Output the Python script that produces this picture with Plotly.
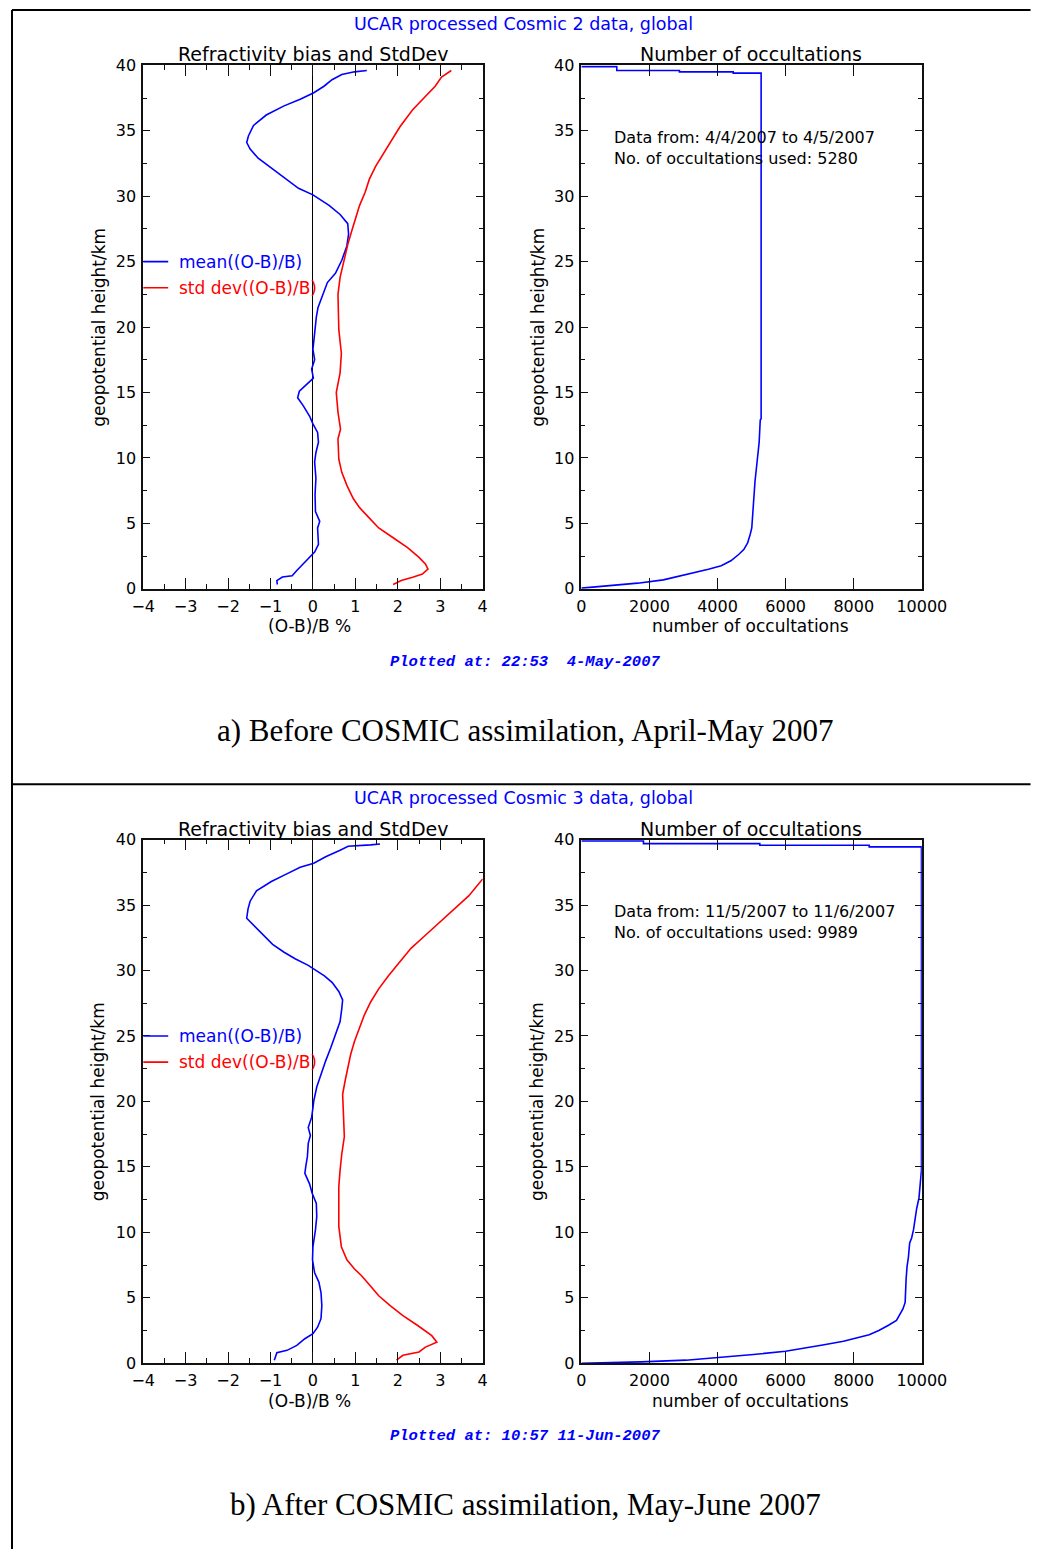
import plotly.graph_objects as go

# ---------------- data ----------------
# a) before COSMIC assimilation (April-May 2007)
mean_a_h = [0.33, 0.63, 0.9, 1.0, 1.4, 1.9, 2.4, 2.8, 3.4, 4.65, 5.15, 5.9, 7.2, 8.45, 9.7, 10.4,
            11.2, 11.95, 12.6, 13.2, 14.0, 14.6, 15.1, 15.7, 16.1, 16.8, 17.5, 18.3, 19.0, 20.0,
            20.75, 21.5, 22.3, 23.4, 24.1, 25.1, 26.2, 27.1, 27.9, 28.6, 29.3, 30.1, 30.6, 31.4,
            32.1, 32.9, 33.6, 34.1, 34.6, 35.4, 36.2, 36.9, 37.4, 37.9, 38.4, 38.9, 39.3, 39.5, 39.6]
mean_a_v = [-0.84, -0.85, -0.72, -0.49, -0.38, -0.23, -0.08, 0.04, 0.13, 0.11, 0.16, 0.06, 0.05,
            0.07, 0.04, 0.07, 0.13, 0.11, 0.0, -0.08, -0.23, -0.36, -0.32, -0.11, 0.01, -0.03,
            0.04, 0.0, 0.02, 0.05, 0.08, 0.12, 0.22, 0.34, 0.53, 0.68, 0.80, 0.84, 0.82, 0.64,
            0.38, 0.0, -0.34, -0.68, -0.98, -1.29, -1.48, -1.56, -1.52, -1.40, -1.10, -0.68,
            -0.30, 0.02, 0.26, 0.45, 0.68, 0.98, 1.27]

std_a_h = [0.33, 0.63, 0.88, 1.13, 1.5, 1.9, 2.4, 3.15, 3.9, 4.65, 5.4, 6.2, 6.9, 7.9, 8.9, 9.9,
           11.45, 12.2, 13.5, 15.0, 16.5, 18.0, 19.8, 21.3, 22.5, 23.8, 25.0, 26.3, 27.3, 28.3,
           29.3, 30.3, 31.3, 32.3, 33.3, 34.3, 35.3, 36.6, 37.6, 38.4, 39.1, 39.6]
std_a_v = [1.89, 2.08, 2.35, 2.58, 2.71, 2.65, 2.5, 2.23, 1.89, 1.55, 1.33, 1.10, 0.95, 0.80,
           0.68, 0.61, 0.59, 0.65, 0.59, 0.55, 0.64, 0.67, 0.61, 0.59, 0.59, 0.64, 0.72, 0.82,
           0.91, 1.0, 1.10, 1.23, 1.33, 1.48, 1.67, 1.86, 2.05, 2.35, 2.65, 2.88, 3.03, 3.26]

# occultation counts reaching each height (staircase near the top, curve below)
occ_a_n = [0, 1040, 1040, 2880, 2880, 4460, 4460, 5280, 5280, 5254, 5222, 5147, 5100, 5052,
           5005, 4958, 4883, 4770, 4628, 4391, 4108, 3731, 3354, 2881, 2408, 1654, 898, 331, 0]
occ_a_h = [39.9, 39.9, 39.6, 39.6, 39.5, 39.5, 39.4, 39.4, 13.0, 12.9, 11.2, 9.4, 8.2, 6.4,
           4.65, 4.15, 3.5, 3.0, 2.64, 2.14, 1.76, 1.5, 1.26, 1.0, 0.68, 0.43, 0.25, 0.13, 0.05]

# b) after COSMIC assimilation (May-June 2007)
mean_b_h = [0.23, 0.8, 0.98, 1.36, 1.87, 2.25, 2.75, 3.4, 4.4, 5.4, 6.2, 6.9, 7.9, 8.9, 10.2,
            11.2, 12.2, 13.0, 13.7, 14.5, 15.0, 15.8, 16.8, 17.4, 18.0, 18.8, 19.5, 20.05, 21.1,
            22.1, 23.1, 24.1, 25.1, 26.1, 27.1, 27.75, 28.4, 29.1, 29.6, 30.1, 30.4, 30.9, 31.4,
            32.0, 32.7, 33.3, 34.0, 34.7, 35.3, 36.1, 36.8, 37.35, 37.9, 38.2, 38.7, 39.2, 39.5,
            39.6, 39.67]
mean_b_v = [-0.91, -0.85, -0.61, -0.38, -0.19, 0.0, 0.11, 0.19, 0.21, 0.19, 0.14, 0.04, -0.01,
            0.0, 0.06, 0.09, 0.08, -0.02, -0.08, -0.19, -0.17, -0.13, -0.11, -0.06, -0.11,
            -0.03, 0.0, 0.02, 0.09, 0.19, 0.30, 0.42, 0.53, 0.64, 0.68, 0.70, 0.61, 0.45, 0.27,
            0.04, -0.11, -0.42, -0.68, -0.95, -1.17, -1.36, -1.56, -1.53, -1.48, -1.33, -0.98,
            -0.64, -0.30, 0.02, 0.30, 0.64, 0.83, 1.36, 1.58]

std_b_h = [0.23, 0.6, 0.86, 1.23, 1.6, 2.1, 2.9, 3.64, 4.4, 5.15, 6.0, 6.7, 7.2, 7.9, 8.9, 10.45,
           12.0, 13.5, 14.75, 16.0, 17.3, 18.5, 19.5, 20.55, 21.6, 22.6, 23.6, 24.6, 25.6, 26.6,
           27.6, 28.6, 29.6, 30.7, 31.7, 32.7, 33.7, 34.7, 35.7, 37.0]
std_b_v = [1.97, 2.12, 2.5, 2.65, 2.92, 2.80, 2.46, 2.12, 1.82, 1.55, 1.33, 1.14, 0.98, 0.80,
           0.67, 0.61, 0.61, 0.61, 0.64, 0.68, 0.74, 0.72, 0.70, 0.70, 0.76, 0.83, 0.89, 0.98,
           1.10, 1.21, 1.36, 1.55, 1.78, 2.05, 2.31, 2.65, 2.99, 3.33, 3.67, 4.0]

occ_b_n = [0, 1824, 1824, 5241, 5241, 8453, 8453, 9989, 9989, 9915, 9850, 9802, 9756, 9700,
           9643, 9604, 9567, 9538, 9510, 9445, 9348, 9255, 9020, 8737, 8453, 8074, 7697, 7130,
           6564, 5997, 5052, 4108, 3071, 1748, 567, 0]
occ_b_h = [39.9, 39.9, 39.7, 39.7, 39.57, 39.57, 39.45, 39.45, 14.75, 12.6, 11.84, 10.96, 10.2,
           9.57, 9.19, 8.05, 7.42, 6.42, 4.64, 4.14, 3.64, 3.26, 2.9, 2.5, 2.17, 1.92, 1.67, 1.41,
           1.16, 0.91, 0.66, 0.43, 0.23, 0.1, 0.03, 0.0]

panels = [
    dict(header="UCAR processed Cosmic 2 data, global",
         mean=(mean_a_v, mean_a_h), std=(std_a_v, std_a_h), occ=(occ_a_n, occ_a_h),
         dates="Data from: 4/4/2007 to 4/5/2007", used=5280,
         stamp="Plotted at: 22:53 \u00a04-May-2007",
         caption="a) Before COSMIC assimilation, April-May 2007"),
    dict(header="UCAR processed Cosmic 3 data, global",
         mean=(mean_b_v, mean_b_h), std=(std_b_v, std_b_h), occ=(occ_b_n, occ_b_h),
         dates="Data from: 11/5/2007 to 11/6/2007", used=9989,
         stamp="Plotted at: 10:57 11-Jun-2007",
         caption="b) After COSMIC assimilation, May-June 2007"),
]

# ---------------- layout helpers ----------------
# page is 1059 x 1565; the html body keeps its default 8 px margin,
# so the figure itself is 16 px smaller and page pixels are shifted by 8.
PAGE_W, PAGE_H = 1059, 1565
BODY_M = 8
W, H = PAGE_W - 2 * BODY_M, PAGE_H - 2 * BODY_M
PANEL_DY = 784
BLUE, RED, INK = "#0000ff", "#ff0000", "#111111"
SANS = "DejaVu Sans"


def fx(px):
    return (px - BODY_M) / W


def fy(py):
    return 1 - (py - BODY_M) / H


def xname(k):
    return "x" if k == 1 else f"x{k}"


def yname(k):
    return "y" if k == 1 else f"y{k}"


fig = go.Figure()
annotations = []
shapes = []

axis_common = dict(showline=True, linecolor=INK, linewidth=1.5, mirror="allticks",
                   ticks="inside", tickcolor=INK, tickwidth=1.3, showgrid=False,
                   zeroline=False, tickfont=dict(family=SANS, size=16, color="black"),
                   fixedrange=True)

layout_axes = {}
for i, p in enumerate(panels):
    off = i * PANEL_DY
    kl, kr = 2 * i + 1, 2 * i + 2
    ydom = [fy(595 + off), fy(65 + off)]

    yaxis_def = dict(axis_common, range=[0, 40], dtick=5, tick0=0, ticklen=7,
                     minor=dict(dtick=2.5, ticks="inside", ticklen=4, tickcolor=INK),
                     domain=ydom, ticklabelstandoff=2)
    layout_axes["xaxis" if kl == 1 else f"xaxis{kl}"] = dict(
        axis_common, domain=[fx(144), fx(496)], range=[-4, 4], dtick=1, tick0=0, ticklen=11,
        anchor=yname(kl), ticklabelstandoff=2,
        minor=dict(dtick=0.5, ticks="inside", ticklen=5, tickcolor=INK),
        zeroline=True, zerolinecolor="black", zerolinewidth=1.2)
    layout_axes[f"yaxis{kl}" if kl > 1 else "yaxis"] = dict(yaxis_def, anchor=xname(kl))
    layout_axes[f"xaxis{kr}"] = dict(
        axis_common, domain=[fx(598.3), fx(951.3)], range=[0, 10000], dtick=2000, tick0=0,
        ticklen=11, anchor=yname(kr), tickformat="d", ticklabelstandoff=2)
    layout_axes[f"yaxis{kr}"] = dict(yaxis_def, anchor=xname(kr))

    # profiles
    fig.add_trace(go.Scatter(x=p["mean"][0], y=p["mean"][1], mode="lines",
                             line=dict(color=BLUE, width=1.6), xaxis=xname(kl),
                             yaxis=yname(kl), showlegend=False))
    fig.add_trace(go.Scatter(x=p["std"][0], y=p["std"][1], mode="lines",
                             line=dict(color=RED, width=1.6), xaxis=xname(kl),
                             yaxis=yname(kl), showlegend=False))
    fig.add_trace(go.Scatter(x=p["occ"][0], y=p["occ"][1], mode="lines",
                             line=dict(color=BLUE, width=1.6),
                             xaxis=xname(kr), yaxis=yname(kr), showlegend=False))

    # in-plot legend
    for ylev, col, txt in [(25, BLUE, "mean((O-B)/B)"), (23, RED, "std dev((O-B)/B)")]:
        shapes.append(dict(type="line", xref=xname(kl), yref=yname(kl), x0=-4, x1=-3.41,
                           y0=ylev, y1=ylev, line=dict(color=col, width=1.6)))
        annotations.append(dict(xref=xname(kl), yref=yname(kl), x=-3.2, y=ylev, text=txt,
                                showarrow=False, xanchor="left", yanchor="middle",
                                font=dict(family=SANS, size=17, color=col)))

    # data-period note
    annotations.append(dict(xref="paper", yref="paper", x=fx(630), y=fy(138 + off),
                            text=p["dates"], showarrow=False, xanchor="left",
                            yanchor="middle", font=dict(family=SANS, size=16, color="black")))
    annotations.append(dict(xref="paper", yref="paper", x=fx(630), y=fy(159 + off),
                            text=f"No. of occultations used: {p['used']}", showarrow=False,
                            xanchor="left", yanchor="middle",
                            font=dict(family=SANS, size=16, color="black")))

    # titles and labels
    texts = [
        (538, 23, p["header"], dict(family=SANS, size=17.5, color=BLUE), 0),
        (320, 54, "Refractivity bias and StdDev", dict(family=SANS, size=19, color="black"), 0),
        (774, 54, "Number of occultations", dict(family=SANS, size=19, color="black"), 0),
        (98, 330, "geopotential height/km", dict(family=SANS, size=17, color="black"), -90),
        (553, 330, "geopotential height/km", dict(family=SANS, size=17, color="black"), -90),
        (316, 633, "(O-B)/B %", dict(family=SANS, size=17, color="black"), 0),
        (774, 633, "number of occultations", dict(family=SANS, size=17, color="black"), 0),
        (540, 669, p["stamp"], dict(family="Liberation Mono", size=15.5, color=BLUE,
                                    weight="bold", style="italic"), 0),
        (540, 738, p["caption"], dict(family="Liberation Serif", size=31, color="black"), 0),
    ]
    for x, y, t, f, ang in texts:
        annotations.append(dict(xref="paper", yref="paper", x=fx(x), y=fy(y + off), text=t,
                                showarrow=False, xanchor="center", yanchor="middle",
                                font=f, textangle=ang))

# outer table rules
for x0, y0, x1, y1 in [(8, 9, PAGE_W + 5, 9), (8, 9, 8, PAGE_H + 5),
                       (8, 9 + PANEL_DY, PAGE_W + 5, 9 + PANEL_DY)]:
    shapes.append(dict(type="line", xref="paper", yref="paper", x0=fx(x0), y0=fy(y0),
                       x1=fx(x1), y1=fy(y1), line=dict(color="black", width=2)))

fig.update_layout(width=W, height=H, margin=dict(l=0, r=0, t=0, b=0),
                  paper_bgcolor="white", plot_bgcolor="white",
                  annotations=annotations, shapes=shapes, showlegend=False,
                  **layout_axes)

fig.write_html("out.html", config=dict(displayModeBar=False))
